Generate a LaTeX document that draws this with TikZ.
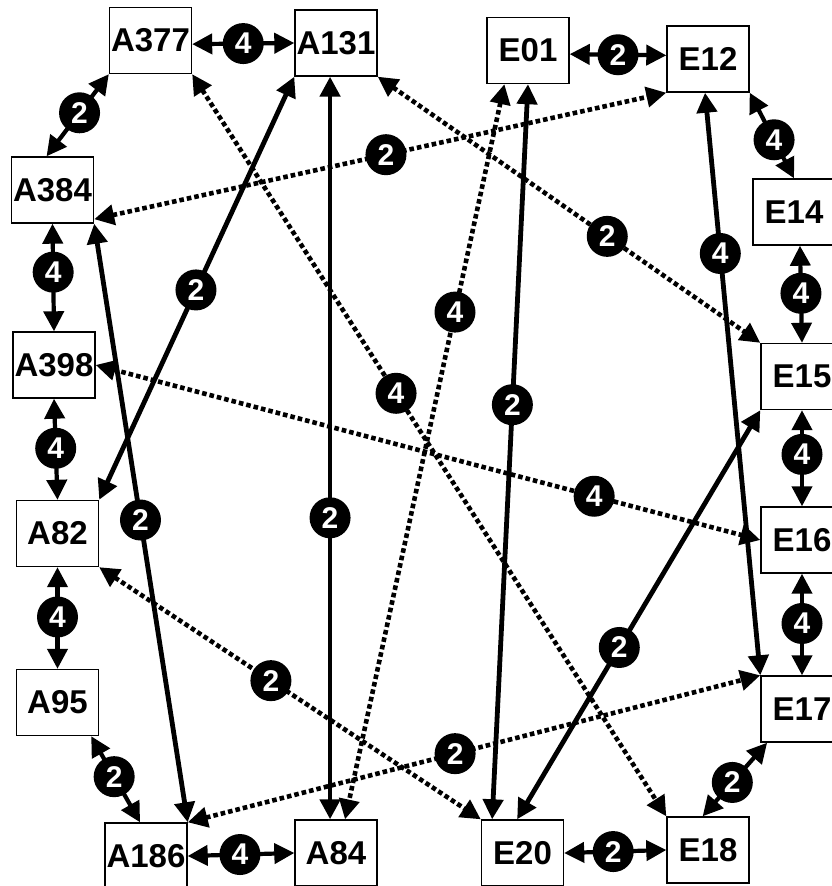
\documentclass[tikz,border=0pt]{standalone}
\usepackage{fontspec}
\setmainfont{Liberation Sans}
\usetikzlibrary{arrows.meta}
\tikzset{
  box/.style={draw, line width=1.4pt, minimum width=82pt, minimum height=66pt,
    inner sep=0pt, font=\fontsize{33}{36}\selectfont\bfseries},
  tag/.style={circle, fill=black, minimum size=41pt, inner sep=0pt, text=white,
    font=\fontsize{30}{32}\selectfont\bfseries},
  tip/.tip={Triangle[length=20pt,width=20pt]},
  pair/.style={line width=4.2pt, tip-tip},
  solidlink/.style={line width=4.8pt, tip-tip},
  dotlink/.style={line width=4.6pt, dash pattern=on 4.6pt off 3pt, tip-tip},
}
\begin{document}
\begin{tikzpicture}[x=1pt, y=-1pt]
\useasboundingbox (0,0) rectangle (831,886);

% boxes, left group
\node[box] (A377) at (150.5,40.5) {A377};
\node[box] (A131) at (336,43) {A131};
\node[box] (A384) at (52.5,190) {A384};
\node[box] (A398) at (54,365) {A398};
\node[box] (A82) at (57.5,533.5) {A82};
\node[box] (A95) at (57.5,702.5) {A95};
\node[box] (A186) at (146,856) {A186};
\node[box] (A84) at (336,853) {A84};
% boxes, right group
\node[box] (E01) at (528,50.5) {E01};
\node[box] (E12) at (708,59) {E12};
\node[box] (E14) at (794,212) {E14};
\node[box] (E15) at (802,376.5) {E15};
\node[box] (E16) at (802,540) {E16};
\node[box] (E17) at (802,709) {E17};
\node[box] (E20) at (522.5,853) {E20};
\node[box] (E18) at (708,850) {E18};

% neighbours around the ring
\draw[pair] (A377.-5) -- node[tag,pos=0.5] (t1) {4} (A131.west);
\draw[pair] (A377.south west) -- node[tag,pos=0.47] (t2) {2} (A384.100);
\draw[pair] (A384.south) -- node[tag,pos=0.45] (t3) {4} (A398.north);
\draw[pair] (A398.south) -- node[tag,pos=0.49] (t4) {4} (A82.north);
\draw[pair] (A82.south) -- node[tag,pos=0.49] (t5) {4} (A95.north);
\draw[pair] (A95.-45) -- node[tag,pos=0.47] (t6) {2} (A186.100);
\draw[pair] (A186.east) -- node[tag,pos=0.49] (t7) {4} (A84.west);
\draw[pair] (E20.east) -- node[tag,pos=0.48] (t8) {2} (E18.west);
\draw[pair] (E18.99) -- node[tag,pos=0.46] (t9) {2} (E17.-136);
\draw[pair] (E17.north) -- node[tag,pos=0.51] (t10) {4} (E16.south);
\draw[pair] (E16.north) -- node[tag,pos=0.54] (t11) {4} (E15.south);
\draw[pair] (E15.north) -- node[tag,pos=0.51] (t12) {4} (E14.-80);
\draw[pair] (E12.south east) -- node[tag,pos=0.55] (t13) {4} (E14.north);
\draw[pair] (E01.-5) -- node[tag,pos=0.5] (t14) {2} (E12.175);

% solid cross links
\draw[solidlink] (A131.-100) -- node[tag,pos=0.594] (t15) {2} (A84.100);
\draw[solidlink] (A131.south west) -- node[tag,pos=0.504] (t16) {2} (A82.north east);
\draw[solidlink] (A384.south east) -- node[tag,pos=0.495] (t17) {2} (A186.north east);
\draw[solidlink] (E01.south) -- node[tag,pos=0.436] (t22) {2} (E20.132);
\draw[solidlink] (E12.-95) -- node[tag,pos=0.276] (t23) {4} (E17.north west);
\draw[solidlink] (E15.south west) -- node[tag,pos=0.58] (t24) {2} (E20.99);

% dotted cross links
\draw[dotlink] (A384.-35) -- node[tag,pos=0.51] (t18) {2} (E12.south west);
\draw[dotlink] (A377.south east) -- node[tag,pos=0.43] (t19) {4} (E18.north west);
\draw[dotlink] (A131.south east) -- node[tag,pos=0.6] (t20) {2} (E15.north west);
\draw[dotlink] (E01.-125) -- node[tag,pos=0.31] (t21) {4} (A84.75);
\draw[dotlink] (A398.east) -- node[tag,pos=0.75] (t25) {4} (E16.west);
\draw[dotlink] (A82.south east) -- node[tag,pos=0.45] (t26) {2} (E20.north west);
\draw[dotlink] (A186.north east) -- node[tag,pos=0.467] (t27) {2} (E17.north west);
\end{tikzpicture}
\end{document}
